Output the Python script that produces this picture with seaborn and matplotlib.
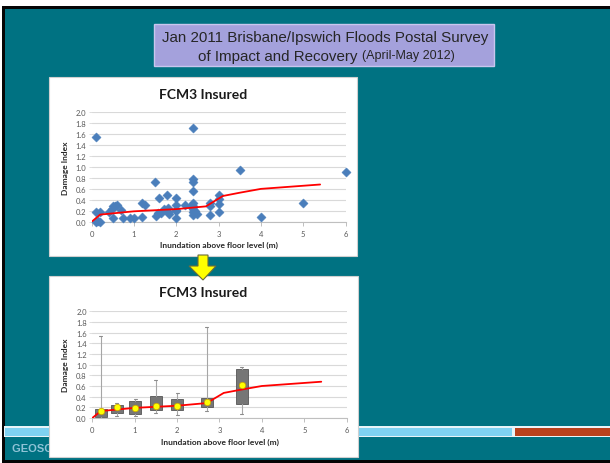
import matplotlib
matplotlib.use("Agg")
import matplotlib.pyplot as plt
from matplotlib.patches import Rectangle, Polygon
import seaborn as sns
import pandas as pd

sns.set_theme(style="white")
plt.rcParams['font.family'] = ['Lato', 'DejaVu Sans']

W, H = 610, 464

# ---------------- data ----------------
depth_pts = [0.1, 0.1, 0.1, 0.15, 0.2, 0.2, 0.4, 0.47, 0.5, 0.5, 0.55, 0.6, 0.7, 0.75,
             0.9, 1.0, 1.2, 1.25, 1.2, 1.5, 1.58, 1.52, 1.56, 1.63, 1.72, 1.78, 1.8,
             1.8, 1.82, 2.0, 2.0, 2.0, 2.0, 2.0, 2.2, 2.35, 2.4, 2.4, 2.4, 2.4, 2.4,
             2.4, 2.4, 2.4, 2.4, 2.5, 2.45, 2.8, 2.8, 2.8, 3.0, 3.0, 3.0, 3.0, 3.5,
             4.0, 5.0, 6.0]
damage_pts = [1.54, 0.17, 0.0, 0.02, 0.17, 0.0, 0.17, 0.23, 0.28, 0.06, 0.29, 0.30, 0.22, 0.06,
              0.06, 0.06, 0.35, 0.31, 0.08, 0.72, 0.44, 0.11, 0.15, 0.16, 0.23, 0.48, 0.25,
              0.18, 0.14, 0.43, 0.30, 0.22, 0.06, 0.20, 0.30, 0.28, 1.71, 0.78, 0.73, 0.57, 0.34,
              0.29, 0.23, 0.17, 0.12, 0.14, 0.20, 0.34, 0.29, 0.13, 0.48, 0.41, 0.32, 0.17, 0.95,
              0.09, 0.34, 0.91]

curve_depth = [0.0, 0.2, 0.6, 1.0, 1.5, 2.0, 2.7, 3.1, 3.5, 4.0, 5.4]
curve_damage = [0.0, 0.13, 0.16, 0.19, 0.21, 0.23, 0.28, 0.47, 0.53, 0.60, 0.68]

box_pos = [0.2, 0.58, 1.01, 1.5, 2.0, 2.7, 3.53]
box_q1 = [0.02, 0.10, 0.07, 0.15, 0.15, 0.21, 0.27]
box_q3 = [0.17, 0.24, 0.31, 0.42, 0.36, 0.38, 0.92]
box_lo = [0.0, 0.04, 0.04, 0.10, 0.05, 0.13, 0.08]
box_hi = [1.53, 0.29, 0.35, 0.72, 0.47, 1.71, 0.95]
box_mean = [0.13, 0.21, 0.19, 0.22, 0.22, 0.30, 0.61]

title_line1 = "Jan 2011 Brisbane/Ipswich Floods Postal Survey"
title_line2a = "of Impact and Recovery "
title_line2b = "(April-May 2012)"
chart_title = "FCM3 Insured"
xlab = "Inundation above floor level (m)"
ylab = "Damage Index"
yticks = [0.0, 0.2, 0.4, 0.6, 0.8, 1.0, 1.2, 1.4, 1.6, 1.8, 2.0]
xticks = [0, 1, 2, 3, 4, 5, 6]

# ---------------- helpers ----------------
fig = plt.figure(figsize=(W / 100, H / 100), dpi=100)
fig.patch.set_facecolor("white")

def frect(x0, y0, x1, y1):
    return (x0 / W, 1 - y1 / H, (x1 - x0) / W, (y1 - y0) / H)

def add_rect(x0, y0, x1, y1, fc, ec="none", lw=0, z=-10):
    l, b, w, h = frect(x0, y0, x1, y1)
    r = Rectangle((l, b), w, h, transform=fig.transFigure, facecolor=fc,
                  edgecolor=ec, linewidth=lw, zorder=z)
    fig.patches.append(r)
    return r

TEAL = "#007282"
add_rect(2, 7, 610, 464, "#050505", z=-20)
add_rect(5, 10, 610, 461, TEAL, z=-19)
# stripe
add_rect(4, 427, 610, 438, "#e8f4f8", z=-18)
add_rect(5, 428.5, 512, 436.5, "#7fd2f2", z=-17)
add_rect(515, 428.5, 610, 436.5, "#b9411d", z=-17)
fig.text(12 / W, 1 - 449 / H, "GEOSCIENCE AUSTRALIA", color="#8fc3d6", fontsize=8,
         fontweight="bold", va="center", ha="left", zorder=-16,
         family=["Liberation Sans"])

# title box
add_rect(154, 25, 494, 67, "#a4a1dc", ec="#c8c6ee", lw=1, z=-15)
fig.text(325 / W, 1 - 38 / H, title_line1, ha="center", va="center", fontsize=10.9,
         color="#262626", family=["Liberation Sans"], zorder=-14)
ta = fig.text(0, 1 - 56.5 / H, title_line2a, ha="left", va="center",
              fontsize=10.9, color="#262626", family=["Liberation Sans"], zorder=-14)
tb = fig.text(0, 1 - 56.5 / H, title_line2b, ha="left", va="center",
              fontsize=9.0, color="#262626", family=["Liberation Sans"], zorder=-14)
fig.canvas.draw()
wa = ta.get_window_extent().width
wb = tb.get_window_extent().width
x_start = 326 - (wa + wb) / 2
ta.set_x(x_start / W)
tb.set_x((x_start + wa) / W)

# panels
add_rect(49, 78, 357, 257, "white", ec="#d0d0d0", lw=0.8, z=-12)
add_rect(49, 277, 358, 458, "white", ec="#d0d0d0", lw=0.8, z=-12)

# arrow
arrow_px = [(198, 256), (208, 256), (208, 267), (216, 267), (203, 281),
            (189, 267), (198, 267)]
poly = Polygon([(x / W, 1 - y / H) for x, y in arrow_px], closed=True,
               transform=fig.transFigure, facecolor="#ffff00",
               edgecolor="#6b6b3a", linewidth=0.8, zorder=-11)
fig.patches.append(poly)


def style_axes(ax, title_y):
    ax.set_xlim(0, 6)
    ax.set_ylim(0, 2.0)
    ax.set_facecolor("none")
    ax.set_yticks(yticks)
    ax.set_yticklabels([f"{v:.1f}" for v in yticks])
    ax.set_xticks(xticks)
    ax.set_xticklabels([str(v) for v in xticks])
    ax.grid(axis="y", color="#d9d9d9", linewidth=0.8)
    ax.grid(axis="x", visible=False)
    ax.set_axisbelow(True)
    for s in ["top", "right", "left"]:
        ax.spines[s].set_visible(False)
    ax.spines["bottom"].set_color("#bfbfbf")
    ax.spines["bottom"].set_linewidth(0.8)
    ax.tick_params(axis="x", length=3, width=0.7, color="#bfbfbf", labelsize=5.5,
                   labelcolor="#595959", pad=3, direction="out", bottom=True)
    ax.tick_params(axis="y", length=2, width=0.6, color="#d9d9d9", labelsize=5.5,
                   labelcolor="#595959", pad=2, left=True)
    ax.set_xlabel(xlab, fontsize=6, fontweight="bold", color="#262626", labelpad=3)
    ax.set_ylabel(ylab, fontsize=6, fontweight="bold", color="#262626", labelpad=5)
    fig.text(203 / W, 1 - title_y / H, chart_title, fontsize=10, fontweight="bold",
             color="#1a1a1a", ha="center", va="center")


# ---------------- top chart ----------------
ax1 = fig.add_axes(frect(91.7, 113.3, 345.5, 222.7))
df_pts = pd.DataFrame({"depth": depth_pts, "damage": damage_pts})
df_curve = pd.DataFrame({"depth": curve_depth, "damage": curve_damage})
sns.scatterplot(data=df_pts, x="depth", y="damage", ax=ax1, marker="D", s=22,
                color="#4a7ebb", edgecolor="#4a7ebb", linewidth=0.3, clip_on=False,
                zorder=3)
sns.lineplot(data=df_curve, x="depth", y="damage", ax=ax1, color="#ff0000",
             linewidth=1.3, zorder=4, estimator=None, sort=False)
style_axes(ax1, 95)

# ---------------- bottom chart ----------------
ax2 = fig.add_axes(frect(92.3, 312.3, 346.7, 419))
stats = []
for p, q1, q3, lo, hi, m in zip(box_pos, box_q1, box_q3, box_lo, box_hi, box_mean):
    stats.append(dict(med=(q1 + q3) / 2, q1=q1, q3=q3, whislo=lo, whishi=hi, mean=m))
ax2.bxp(stats, positions=box_pos, widths=0.28, patch_artist=True, showfliers=False,
        manage_ticks=False,
        boxprops=dict(facecolor="#767676", edgecolor="#555555", linewidth=0.6),
        whiskerprops=dict(color="#a6a6a6", linewidth=0.8),
        capprops=dict(color="#8c8c8c", linewidth=0.8),
        medianprops=dict(linewidth=0), capwidths=0.07)
sns.lineplot(data=df_curve, x="depth", y="damage", ax=ax2, color="#ff0000",
             linewidth=1.3, zorder=4, estimator=None, sort=False)
df_mean = pd.DataFrame({"depth": box_pos, "damage": box_mean})
sns.scatterplot(data=df_mean, x="depth", y="damage", ax=ax2, marker="o", s=22,
                color="#ffff00", edgecolor="#c8a000", linewidth=0.5, zorder=5)
style_axes(ax2, 293)

fig.savefig("out.png", dpi=100, facecolor=fig.get_facecolor())
